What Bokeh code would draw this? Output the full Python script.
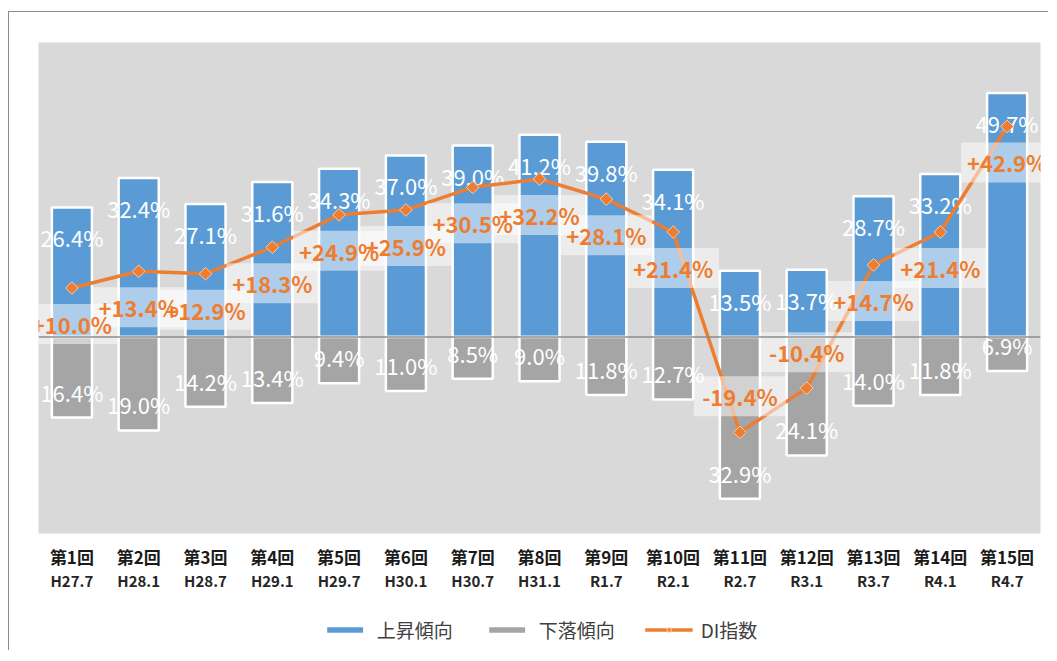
import math
from bokeh.plotting import figure
from bokeh.layouts import column
from bokeh.models import (Range1d, LinearAxis, FixedTicker, Span, Legend,
                          LegendItem, ColumnDataSource)
from bokeh.core.properties import value
from bokeh.embed import file_html
from bokeh.resources import INLINE

# ---- data ----
rounds = ["第1回", "第2回", "第3回", "第4回", "第5回", "第6回", "第7回", "第8回",
          "第9回", "第10回", "第11回", "第12回", "第13回", "第14回", "第15回"]
periods = ["H27.7", "H28.1", "H28.7", "H29.1", "H29.7", "H30.1", "H30.7", "H31.1",
           "R1.7", "R2.1", "R2.7", "R3.1", "R3.7", "R4.1", "R4.7"]
rising = [26.4, 32.4, 27.1, 31.6, 34.3, 37.0, 39.0, 41.2, 39.8, 34.1, 13.5, 13.7, 28.7, 33.2, 49.7]
falling = [16.4, 19.0, 14.2, 13.4, 9.4, 11.0, 8.5, 9.0, 11.8, 12.7, 32.9, 24.1, 14.0, 11.8, 6.9]
di = [10.0, 13.4, 12.9, 18.3, 24.9, 25.9, 30.5, 32.2, 28.1, 21.4, -19.4, -10.4, 14.7, 21.4, 42.9]
series_names = ["上昇傾向", "下落傾向", "DI指数"]

# ---- style ----
FONT = "Noto Sans CJK JP"
BLUE = "#5b9bd5"
GRAY = "#a5a5a5"
ORANGE = "#ed7d31"
BG = "#d9d9d9"
Y_MIN, Y_MAX = -40, 60
FRAME_W, FRAME_H = 1002, 491
ppu = FRAME_H / (Y_MAX - Y_MIN)

xs = list(range(1, len(rounds) + 1))

p = figure(x_range=Range1d(0.5, len(rounds) + 0.5),
           y_range=Range1d(Y_MIN, Y_MAX),
           frame_width=FRAME_W, frame_height=FRAME_H,
           min_border_left=29, min_border_top=30, min_border_right=8,
           min_border_bottom=75,
           output_backend="svg", toolbar_location=None)
p.background_fill_color = BG
p.border_fill_color = "white"
p.outline_line_color = None
p.grid.visible = False
p.yaxis.visible = False

up_src = ColumnDataSource(dict(x=xs, top=rising,
                               ly=[v - 30 / ppu for v in rising],
                               t=[f"{v:.1f}%" for v in rising]))
dn_src = ColumnDataSource(dict(x=xs, bottom=[-v for v in falling],
                               ly=[-v + 26 / ppu for v in falling],
                               t=[f"{v:.1f}%" for v in falling]))
di_src = ColumnDataSource(dict(x=xs, y=di,
                               ly=[v - math.copysign(36 / ppu, v) for v in di],
                               t=[f"{v:+.1f}%" for v in di]))

bar_up = dict(width=0.6, fill_color=BLUE, line_color="white", line_width=2.5)
bar_dn = dict(width=0.6, fill_color=GRAY, line_color="white", line_width=2.5)
line_st = dict(line_color=ORANGE, line_width=3.5)
pt_st = dict(marker="square", size=9, angle=math.pi / 4, fill_color=ORANGE,
             line_color="#f8cbad", line_width=1)

p.vbar(x="x", top="top", bottom=0, source=up_src, **bar_up)
p.vbar(x="x", top=0, bottom="bottom", source=dn_src, **bar_dn)

p.add_layout(Span(location=0, dimension="width", line_color="#8c8c8c", line_width=1.5))

p.text(x="x", y="ly", text="t", source=up_src, text_align="center",
       text_baseline="middle", text_color="white", text_font=value(FONT),
       text_font_size="22px")
p.text(x="x", y="ly", text="t", source=dn_src, text_align="center",
       text_baseline="middle", text_color="white", text_font=value(FONT),
       text_font_size="22px")

p.line(x="x", y="y", source=di_src, **line_st)
p.scatter(x="x", y="y", source=di_src, **pt_st)

p.rect(x="x", y="ly", width=92, height=40, width_units="screen",
       height_units="screen", source=di_src, fill_color="white", fill_alpha=0.5,
       line_color=None)
p.text(x="x", y="ly", text="t", source=di_src, text_align="center",
       text_baseline="middle", text_color=ORANGE, text_font=value(FONT),
       text_font_size="22px", text_font_style="bold")

ax = p.xaxis[0]
ax.ticker = FixedTicker(ticks=xs)
ax.major_label_overrides = {x: r for x, r in zip(xs, rounds)}
ax.axis_line_color = None
ax.major_tick_line_color = None
ax.minor_tick_line_color = None
ax.major_tick_out = 0
ax.major_label_standoff = 10
ax.major_label_text_font = FONT
ax.major_label_text_font_size = "17px"
ax.major_label_text_font_style = "bold"
ax.major_label_text_color = "#1a1a1a"

ax2 = LinearAxis(ticker=FixedTicker(ticks=xs),
                 major_label_overrides={x: d for x, d in zip(xs, periods)})
ax2.axis_line_color = None
ax2.major_tick_line_color = None
ax2.minor_tick_line_color = None
ax2.major_tick_out = 0
ax2.major_label_standoff = -2
ax2.major_label_text_font = FONT
ax2.major_label_text_font_size = "15px"
ax2.major_label_text_font_style = "bold"
ax2.major_label_text_color = "#262626"
p.add_layout(ax2, "below")

# ---- legend strip (own small figure, same glyph styles; proxy glyphs sit off-view) ----
pl = figure(x_range=Range1d(0, 1), y_range=Range1d(0, 1),
            width=p.min_border_left + FRAME_W + p.min_border_right, height=42,
            min_border=0, output_backend="svg", toolbar_location=None)
pl.axis.visible = False
pl.grid.visible = False
pl.outline_line_color = None
pl.background_fill_color = "white"
pl.border_fill_color = "white"
proxy = ColumnDataSource(dict(x=[-9, -8], y=[-9, -8], top=[-9, -8]))
l_up = pl.vbar(x="x", top="top", bottom=-10, source=proxy, **bar_up)
l_dn = pl.vbar(x="x", top="top", bottom=-10, source=proxy, **bar_dn)
l_line = pl.line(x="x", y="y", source=proxy, **line_st)
l_pt = pl.scatter(x="x", y="y", source=proxy, **pt_st)

legend = Legend(items=[LegendItem(label=series_names[0], renderers=[l_up]),
                       LegendItem(label=series_names[1], renderers=[l_dn]),
                       LegendItem(label=series_names[2], renderers=[l_line, l_pt])],
                orientation="horizontal", location="center",
                glyph_width=48, glyph_height=10, label_standoff=8, spacing=30,
                label_text_font=FONT, label_text_font_size="19px",
                label_text_color="#404040", border_line_color=None,
                background_fill_alpha=0, margin=0, padding=0)
pl.add_layout(legend)

layout = column(p, pl, spacing=0)
layout.styles = {"border-top": "1px solid #8c8c8c", "border-left": "1px solid #8c8c8c",
                 "margin-top": "11px", "margin-left": "8px"}

open("out.html", "w").write(file_html(layout, INLINE))
